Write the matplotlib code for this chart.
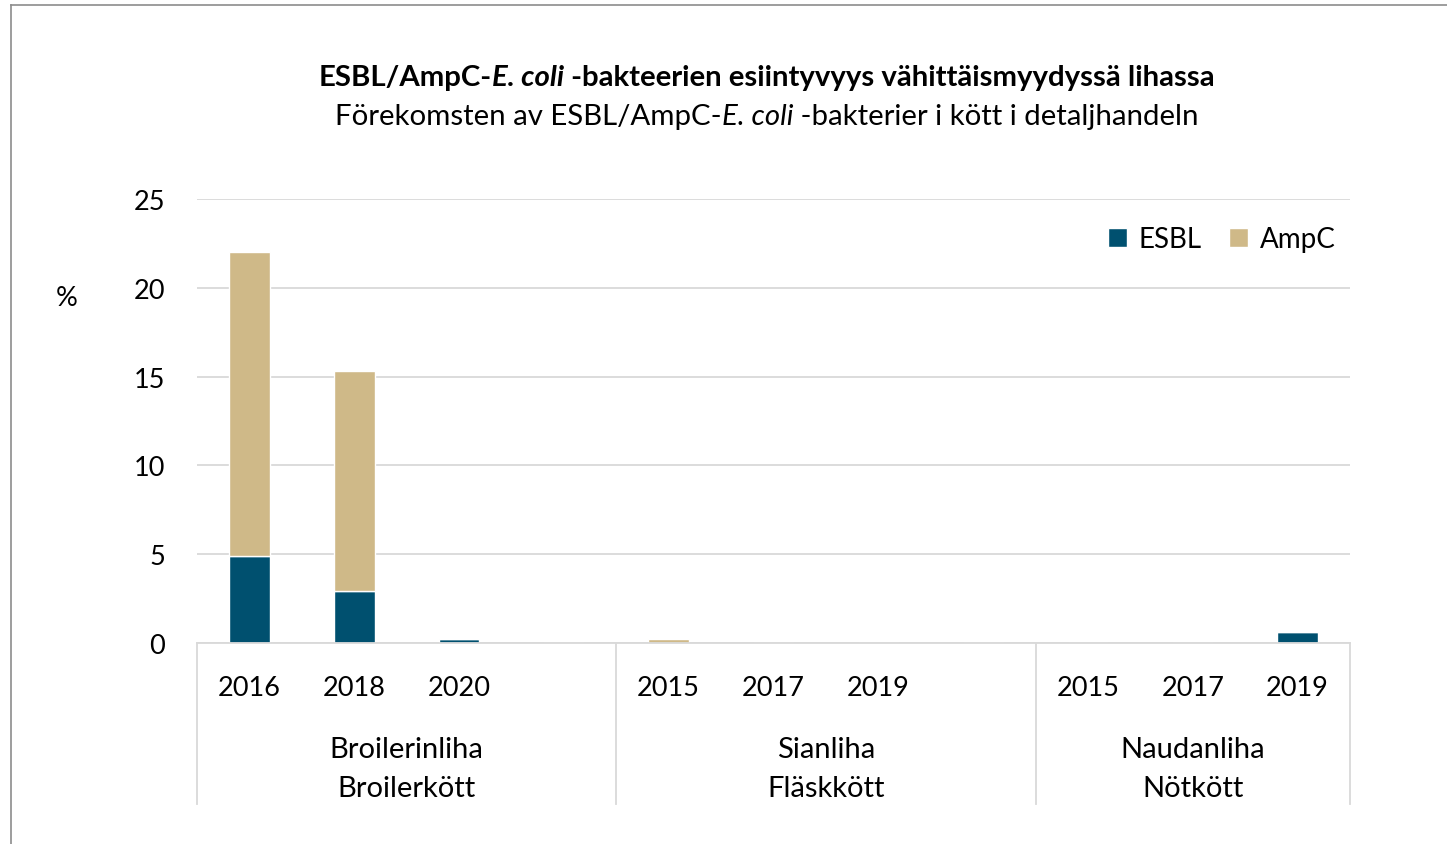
import matplotlib
matplotlib.use("Agg")
import matplotlib.pyplot as plt
import matplotlib.transforms as mtransforms
from matplotlib.lines import Line2D
import numpy as np

# ---------------------
# Data (%), blank slots separate the meat groups
# ---------------------
years = ["2016", "2018", "2020", "", "2015", "2017", "2019", "", "2015", "2017", "2019"]
esbl = [4.9, 2.9, 0.2, 0, 0, 0, 0, 0, 0, 0, 0.6]
ampc = [17.1, 12.4, 0, 0, 0.2, 0, 0, 0, 0, 0, 0]
groups_fi = ["Broilerinliha", "Sianliha", "Naudanliha"]
groups_sv = ["Broilerkött", "Fläskkött", "Nötkött"]
group_centers = [1.5, 5.5, 9.0]
group_edges = [-0.5, 3.5, 7.5, 10.5]

ESBL_COL = "#00506f"
AMPC_COL = "#cfb988"
GRID_COL = "#d9d9d9"

plt.rcParams.update({
    "font.family": ["Lato", "DejaVu Sans"],
    "font.size": 15,
})

fig = plt.figure(figsize=(14.47, 8.45), dpi=100)
ax = fig.add_axes([0.1361, 0.2379, 0.933 - 0.1361, 0.7633 - 0.2379])

x = np.arange(len(years))
ax.bar(x, esbl, width=0.39, color=ESBL_COL, edgecolor="white", linewidth=1.0, label="ESBL", zorder=2)
ax.bar(x, ampc, width=0.39, bottom=esbl, color=AMPC_COL, edgecolor="white", linewidth=1.0, label="AmpC", zorder=2)

ax.set_xlim(-0.5, 10.5)
ax.set_ylim(0, 25)
ax.set_yticks(np.arange(0, 26, 5))
ax.grid(axis="y", color=GRID_COL, linewidth=1.3, zorder=0)
ax.set_axisbelow(True)
for s in ["top", "right", "left"]:
    ax.spines[s].set_visible(False)
ax.spines["bottom"].set_color(GRID_COL)
ax.spines["bottom"].set_linewidth(1.3)
ax.spines["bottom"].set_zorder(2.5)

ax.set_xticks(x)
ax.set_xticklabels(years)
ax.tick_params(axis="x", length=0, pad=23, labelsize=19.5)
ax.tick_params(axis="y", length=0, pad=23, labelsize=19.5)

# category separators under the axis
trans = mtransforms.blended_transform_factory(ax.transData, ax.transAxes)
for e in group_edges:
    ax.add_line(Line2D([e, e], [0, -0.3626], transform=trans, color=GRID_COL,
                       linewidth=1.3, clip_on=False))

for c, fi, sv in zip(group_centers, groups_fi, groups_sv):
    ax.text(c, -0.239, fi, transform=trans, ha="center", va="center", fontsize=21)
    ax.text(c, -0.327, sv, transform=trans, ha="center", va="center", fontsize=21)

fig.text(67 / 1447, 1 - 298 / 845, "%", ha="center", va="center", fontsize=19.5)

ax.legend(loc="upper right", bbox_to_anchor=(1.009, 0.995), ncol=2, frameon=False,
          fontsize=20, handlelength=0.7, handleheight=0.7, handletextpad=0.4,
          columnspacing=1.0)


def rich_line(y, runs, size):
    """Draw text runs of mixed style side by side, centred on the figure."""
    renderer = fig.canvas.get_renderer()
    texts = [fig.text(0, y, s, fontsize=size, va="center", **kw) for s, kw in runs]
    widths = [t.get_window_extent(renderer).width for t in texts]
    total = sum(widths)
    cx = 767
    left = cx - total / 2
    for t, w in zip(texts, widths):
        t.set_x(left / fig.bbox.width)
        left += w


rich_line(1 - 78 / 845, [("ESBL/AmpC-", dict(weight="bold")),
                         ("E. coli", dict(weight="bold", style="italic")),
                         (" -bakteerien esiintyvyys vähittäismyydyssä lihassa", dict(weight="bold"))], 21.2)
rich_line(1 - 117 / 845, [("Förekomsten av ESBL/AmpC-", {}),
                          ("E. coli", dict(style="italic")),
                          (" -bakterier i kött i detaljhandeln", {})], 21.2)

# outer chart border
fig.add_artist(Line2D([10.5 / 1447, 10.5 / 1447], [1 - 5.5 / 845, 0], transform=fig.transFigure,
                      color="#8c8c8c", linewidth=1.2))
fig.add_artist(Line2D([10.5 / 1447, 1], [1 - 5.5 / 845, 1 - 5.5 / 845], transform=fig.transFigure,
                      color="#8c8c8c", linewidth=1.2))

fig.savefig("out.png", dpi=100)
